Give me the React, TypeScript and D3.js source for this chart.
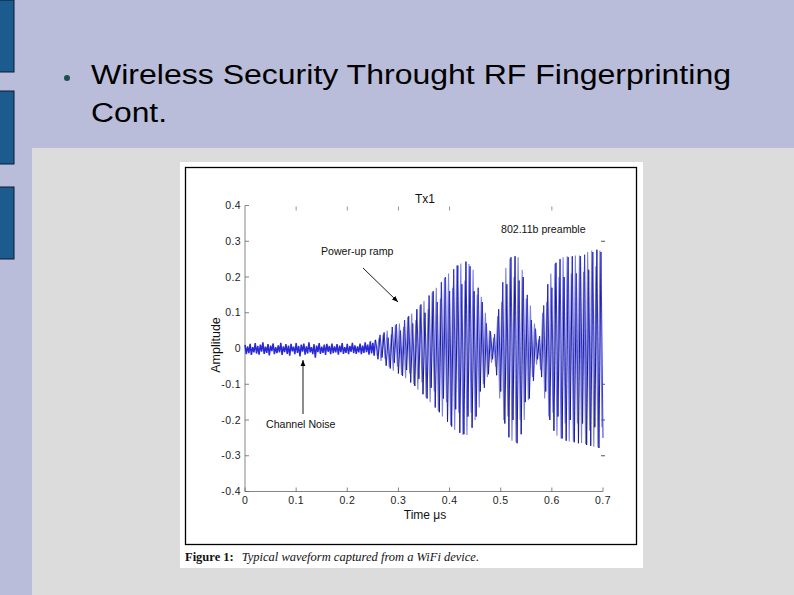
import React from "react";
import * as d3 from "d3";

const noiseValues: number[] = [
  0.01,-0.016,0.006,-0.013,0.013,-0.018,0.004,-0.011,0.015,-0.014,
  0.007,-0.017,0.011,-0.009,0.017,-0.015,0.005,-0.012,0.012,-0.019,
  0.008,-0.007,0.014,-0.016,0.004,-0.013,0.009,-0.011,0.016,-0.018,
  0.006,-0.01,0.012,-0.015,0.008,-0.02,0.013,-0.008,0.005,-0.016,
  0.015,-0.012,0.007,-0.022,0.011,-0.009,0.014,-0.017,0.006,-0.014,
  0.017,-0.011,0.004,-0.016,0.012,-0.026,0.008,-0.01,0.015,-0.015,
  0.005,-0.012,0.011,-0.018,0.013,-0.009,0.007,-0.016,0.014,-0.013,
  0.006,-0.011,0.012,-0.017,0.008,-0.01,0.015,-0.015,0.004,-0.012,
  0.013,-0.016,0.007,-0.009,0.016,-0.013,0.009,-0.015,0.006,-0.011,
  0.014,-0.016,0.008,-0.012,0.017,-0.01,0.011,-0.017,0.02,-0.014,
  0.016,-0.02,0.024,
];
const noiseStep = 0.0025;

// main (dark) trace
const signalValues: number[] = [
  0.018,-0.03,0.038,-0.025,0.045,-0.048,0.03,-0.056,0.06,-0.04,
  0.068,-0.07,0.05,-0.077,0.08,-0.06,0.09,-0.095,0.07,-0.105,
  0.11,-0.085,0.123,-0.128,0.1,-0.14,0.148,-0.11,0.16,-0.165,
  0.13,-0.178,0.185,-0.14,0.2,-0.205,0.16,-0.218,0.222,-0.17,
  0.232,-0.236,0.18,-0.24,0.243,-0.19,0.23,-0.222,0.16,-0.19,
  0.17,-0.12,0.13,-0.11,0.07,-0.072,0.048,-0.03,0.04,-0.075,
  0.11,-0.12,0.185,-0.21,0.18,-0.248,0.255,-0.2,0.258,-0.265,
  0.19,-0.24,0.2,-0.15,0.15,-0.14,0.08,-0.09,0.055,-0.03,
  0.035,-0.08,0.12,-0.12,0.18,-0.2,0.17,-0.23,0.24,-0.19,
  0.25,-0.252,0.2,-0.258,0.255,-0.2,0.258,-0.262,0.21,-0.265,
  0.258,-0.21,0.262,-0.27,0.22,-0.272,0.27,-0.22,0.276,-0.278,
  0.27,-0.25,
];
const signalStart = 0.256;
const signalStep = 0.004;

// second (light) trace, interleaved
const lightValues: number[] = [
  -0.02,0.03,-0.035,0.04,-0.03,0.05,-0.052,0.04,-0.062,0.066,
  -0.05,0.07,-0.074,0.06,-0.083,0.088,-0.07,0.098,-0.1,0.08,
  -0.115,0.12,-0.095,0.133,-0.138,0.11,-0.15,0.157,-0.12,0.17,
  -0.175,0.14,-0.19,0.198,-0.15,0.21,-0.215,0.17,-0.228,0.232,
  -0.18,0.238,-0.241,0.19,-0.242,0.236,-0.18,0.22,-0.2,0.15,
  -0.165,0.145,-0.1,0.1,-0.08,0.05,-0.04,0.03,-0.05,0.09,
  -0.14,0.13,-0.2,0.225,-0.19,0.252,-0.258,0.2,-0.262,0.255,
  -0.2,0.22,-0.2,0.14,-0.145,0.12,-0.08,0.07,-0.045,0.025,
  -0.06,0.1,-0.14,0.13,-0.19,0.21,-0.18,0.237,-0.244,0.2,
  -0.252,0.255,-0.21,0.258,-0.26,0.21,-0.26,0.26,-0.21,0.26,
  -0.264,0.215,-0.268,0.27,-0.23,0.274,-0.275,0.23,-0.276,0.274,
  -0.22,
];
const lightStart = 0.258;

const xTicks = [0, 0.1, 0.2, 0.3, 0.4, 0.5, 0.6, 0.7];
const yTicks = [-0.4, -0.3, -0.2, -0.1, 0, 0.1, 0.2, 0.3, 0.4];
const rightTicks = [0.3, -0.1, -0.2, -0.3];
const topTicks = [0.1, 0.2, 0.3, 0.4, 0.6];
const strokeColors = ["#1b1b78", "#2c2cd4", "#22229a", "#3a3ae0"];

export default function App() {
  const x = d3.scaleLinear().domain([0, 0.7]).range([245, 603]);
  const y = d3.scaleLinear().domain([-0.4, 0.4]).range([491.5, 205.5]);

  const noisePts: [number, number][] = noiseValues.map((v, i) => [i * noiseStep, v]);
  const sigPts: [number, number][] = signalValues.map((v, i) => [signalStart + i * signalStep, v]);
  const lightPts: [number, number][] = lightValues.map((v, i) => [lightStart + i * signalStep, v]);
  const line = d3.line<[number, number]>().x((d) => x(d[0])).y((d) => y(d[1]));
  const fmt = (v: number) => (v === 0 ? "0" : d3.format(".1f")(v).replace("\u2212", "-"));

  const allPts = [...noisePts.slice(-1), ...sigPts];
  const segs = allPts.slice(1).map((p, i) => ({ a: allPts[i], b: p, c: strokeColors[i % strokeColors.length] }));

  const sans = "'Liberation Sans', Arial, sans-serif";
  const serif = "'Liberation Serif', 'Times New Roman', serif";

  return (
    <svg width={794} height={595} style={{ position: "fixed", left: 0, top: 0 }}>
      <rect x={0} y={0} width={794} height={595} fill="#b9bdd9" />
      {[[0, 72], [91, 164], [187, 259]].map(([a, b], i) => (
        <rect key={i} x={-1} y={a} width={15} height={b - a} fill="#1c5b8d" stroke="#0b1a33" strokeWidth={1} />
      ))}
      <circle cx={67} cy={78} r={3} fill="#1d4f4f" />
      <text x={91} y={84} fontFamily={sans} fontSize={27} fill="#000" textLength={640} lengthAdjust="spacingAndGlyphs">Wireless Security Throught RF Fingerprinting</text>
      <text x={91} y={122} fontFamily={sans} fontSize={27} fill="#000" textLength={76} lengthAdjust="spacingAndGlyphs">Cont.</text>
      <rect x={32} y={148} width={762} height={447} fill="#dcdcdc" />

      <rect x={180} y={162} width={463} height={406} fill="#ffffff" />
      <rect x={185.5} y={167.5} width={451} height={377} fill="none" stroke="#000" strokeWidth={1.3} />

      {/* axes */}
      <line x1={x(0)} x2={x(0)} y1={y(0.4)} y2={y(-0.4)} stroke="#666" strokeWidth={0.8} />
      <line x1={x(0)} x2={x(0.7)} y1={y(-0.4)} y2={y(-0.4)} stroke="#666" strokeWidth={0.8} />
      {xTicks.map((t) => (
        <g key={"xt" + t}>
          <line x1={x(t)} x2={x(t)} y1={y(-0.4)} y2={y(-0.4) - 4} stroke="#666" strokeWidth={0.8} />
          <text x={x(t)} y={y(-0.4) + 12} textAnchor="middle" fontFamily={sans} fontSize={10.5} letterSpacing={0.4} fill="#222">{fmt(t)}</text>
        </g>
      ))}
      {topTicks.map((t) => (
        <line key={"tt" + t} x1={x(t)} x2={x(t)} y1={y(0.4) + 1} y2={y(0.4) + 5} stroke="#777" strokeWidth={0.8} />
      ))}
      {yTicks.map((t) => (
        <g key={"yt" + t}>
          <line x1={x(0)} x2={x(0) + 4} y1={y(t)} y2={y(t)} stroke="#666" strokeWidth={0.8} />
          <text x={x(0) - 4} y={y(t) + 3.5} textAnchor="end" fontFamily={sans} fontSize={10.5} letterSpacing={0.4} fill="#222">{fmt(t)}</text>
        </g>
      ))}
      {rightTicks.map((t) => (
        <line key={"rt" + t} x1={x(0.7) - 2} x2={x(0.7) + 2} y1={y(t)} y2={y(t)} stroke="#444" strokeWidth={0.9} />
      ))}

      {/* waveform */}
      <path d={line(noisePts) || ""} fill="none" stroke="#2a2ad4" strokeWidth={1.5} />
      <path d={line(lightPts) || ""} fill="none" stroke="#7c80e0" strokeWidth={1.1} />
      {segs.map((s, i) => (
        <line key={"s" + i} x1={x(s.a[0])} y1={y(s.a[1])} x2={x(s.b[0])} y2={y(s.b[1])} stroke={s.c} strokeWidth={1.05} />
      ))}

      {/* labels */}
      <text x={425} y={203} textAnchor="middle" fontFamily={sans} fontSize={12} fill="#111">Tx1</text>
      <text x={425} y={519} textAnchor="middle" fontFamily={sans} fontSize={12} fill="#111">Time μs</text>
      <text transform="translate(220,345) rotate(-90)" textAnchor="middle" fontFamily={sans} fontSize={12.5} fill="#111">Amplitude</text>

      <text x={501} y={233} fontFamily={sans} fontSize={10.6} fill="#111">802.11b preamble</text>
      <text x={321} y={255} fontFamily={sans} fontSize={10.6} fill="#111">Power-up ramp</text>
      <text x={266} y={428} fontFamily={sans} fontSize={10.6} fill="#111">Channel Noise</text>

      <defs>
        <marker id="ah" viewBox="0 0 10 10" refX={10} refY={5} markerWidth={7} markerHeight={7} orient="auto">
          <path d="M0,1 L10,5 L0,9 z" fill="#000" />
        </marker>
      </defs>
      <line x1={363} y1={268} x2={398} y2={302} stroke="#000" strokeWidth={0.9} markerEnd="url(#ah)" />
      <line x1={303} y1={414} x2={303} y2={360} stroke="#000" strokeWidth={0.9} markerEnd="url(#ah)" />

      <text x={185} y={561} fontFamily={serif} fontSize={12.5} fill="#111">
        <tspan fontWeight="bold">Figure 1:</tspan>
        <tspan dx={8} fontStyle="italic">Typical waveform captured from a WiFi device.</tspan>
      </text>
    </svg>
  );
}
